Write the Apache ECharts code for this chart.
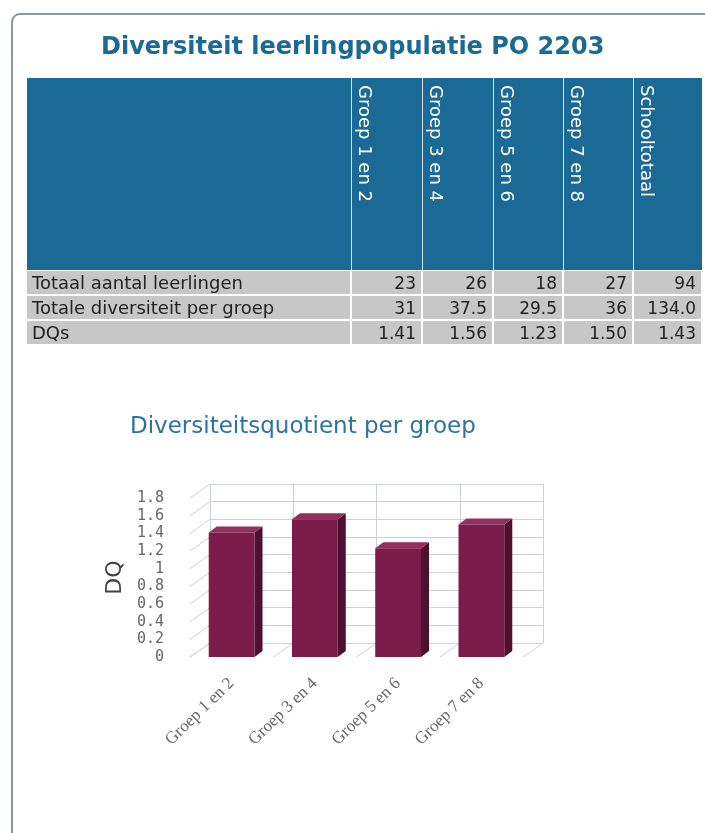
<!DOCTYPE html>
<html>
<head>
<meta charset="utf-8">
<script src="https://cdn.jsdelivr.net/npm/echarts@6/dist/echarts.min.js"></script>
<style>
    html, body { margin: 0; padding: 0; background: #fff; }
    #page { position: relative; width: 705px; height: 833px; overflow: hidden; font-family: "DejaVu Sans", sans-serif; }
    .card { position: absolute; left: 11px; top: 13px; width: 740px; height: 860px; border: 2px solid #8a98a3; border-radius: 9px; }
    #chart { position: absolute; left: 0; top: 0; width: 705px; height: 833px; z-index: 1; }
    #tabel { position: absolute; left: 27px; top: 78px; border-collapse: collapse; table-layout: fixed; z-index: 2; }
    #tabel th { background: #1b6a95; height: 192px; padding: 0; vertical-align: top; text-align: left; border-left: 1px solid #d6e4ee; }
    #tabel th:first-child { border-left: none; }
    #tabel th div { display: inline-block; writing-mode: vertical-rl; color: #fff; font-weight: normal; font-size: 18px; margin: 7px 0 0 3px; }
    #tabel td { background: #c7c7c7; height: 23px; padding: 0 5px 0 3px; font-size: 17px; color: #222; text-align: right; border: 2px solid #fff; border-top-width: 1px; white-space: nowrap; }
    #tabel td:first-child { text-align: left; border-left: none; font-size: 18px; padding-left: 5px; }
</style>
</head>
<body>
<div id="page">
    <div class="card"></div>
    <div id="chart"></div>
    <table id="tabel"></table>
</div>
<script>
    // tabel
    var kolommen = ['Groep 1 en 2', 'Groep 3 en 4', 'Groep 5 en 6', 'Groep 7 en 8', 'Schooltotaal']
    var rijLabels = ['Totaal aantal leerlingen', 'Totale diversiteit per groep', 'DQs']
    var aantalLeerlingen = ['23', '26', '18', '27', '94']
    var totaleDiversiteit = ['31', '37.5', '29.5', '36', '134.0']
    var dqTekst = ['1.41', '1.56', '1.23', '1.50', '1.43']

    // grafiek
    var groepen = ['Groep 1 en 2', 'Groep 3 en 4', 'Groep 5 en 6', 'Groep 7 en 8']
    var dqWaarden = [1.41, 1.56, 1.23, 1.50]
    var yTicks = [0, 0.2, 0.4, 0.6, 0.8, 1, 1.2, 1.4, 1.6, 1.8]

    // tabel opbouwen
    var kolomBreedtes = [324, 71, 71, 70, 70, 69]
    var html = '<colgroup>'
    kolomBreedtes.forEach(function (b) { html += '<col style="width:' + b + 'px">' })
    html += '</colgroup><tr><th></th>'
    kolommen.forEach(function (k) { html += '<th><div>' + k + '</div></th>' })
    html += '</tr>'
    var rijen = [aantalLeerlingen, totaleDiversiteit, dqTekst]
    rijen.forEach(function (rij, i) {
        html += '<tr><td>' + rijLabels[i] + '</td>'
        rij.forEach(function (v) { html += '<td>' + v + '</td>' })
        html += '</tr>'
    })
    document.getElementById('tabel').innerHTML = html

    var chart = echarts.init(document.getElementById('chart'))
    var wandKleur = '#ccd1d5'
    var diepte = [20, -14]   // achterwand t.o.v. voorvlak
    var balkDiepte = [8, -6]

    var option = {
        animation: false,
        title: [{
            text: 'Diversiteit leerlingpopulatie PO 2203',
            left: 96,
            top: 31,
            textStyle: { fontFamily: 'DejaVu Sans', fontSize: 24, fontWeight: 'bold', color: '#1b6a95' }
        }, {
            text: 'Diversiteitsquotient per groep',
            left: 125,
            top: 411,
            textStyle: { fontFamily: 'DejaVu Sans', fontSize: 23, fontWeight: 'normal', color: '#2e73a0' }
        }],
        grid: [
            { left: 190, right: 182, top: 498, bottom: 176 },
            { left: 210, right: 162, top: 484, bottom: 190 }
        ],
        xAxis: [{
            gridIndex: 0,
            type: 'category',
            data: groepen,
            axisLine: { show: false },
            axisTick: { show: false },
            axisLabel: { interval: 0, rotate: 44, margin: 24, fontFamily: 'Liberation Serif', fontSize: 17, color: '#666' }
        }, {
            gridIndex: 1,
            type: 'category',
            data: groepen,
            axisLine: { show: false },
            axisTick: { show: false, interval: 0 },
            axisLabel: { show: false, interval: 0 },
            splitLine: { show: true, interval: 0, lineStyle: { color: wandKleur } }
        }],
        yAxis: [{
            gridIndex: 0,
            type: 'value',
            min: 0,
            max: 1.8,
            interval: 0.2,
            name: 'DQ',
            nameLocation: 'middle',
            nameGap: 64,
            nameTextStyle: { fontFamily: 'DejaVu Sans', fontSize: 22, color: '#444' },
            axisLine: { show: false },
            axisTick: { show: false },
            splitLine: { show: false },
            axisLabel: { margin: 26, fontFamily: 'DejaVu Sans Mono', fontSize: 15, color: '#666' }
        }, {
            gridIndex: 1,
            type: 'value',
            min: 0,
            max: 1.8,
            interval: 0.2,
            axisLine: { show: false },
            axisTick: { show: false },
            axisLabel: { show: false },
            splitLine: { lineStyle: { color: wandKleur } }
        }],
        series: [{
            // zijwand
            type: 'custom',
            xAxisIndex: 0,
            yAxisIndex: 0,
            data: yTicks.map(function (v) { return [0, v] }),
            silent: true,
            renderItem: function (params, api) {
                var p = api.coord([0, api.value(1)])
                var x0 = p[0] - api.size([1, 0])[0] / 2
                return {
                    type: 'line',
                    shape: { x1: x0, y1: p[1], x2: x0 + diepte[0], y2: p[1] + diepte[1] },
                    style: { stroke: wandKleur, lineWidth: 1 }
                }
            }
        }, {
            // vloer
            type: 'custom',
            xAxisIndex: 0,
            yAxisIndex: 0,
            data: groepen.map(function (g, i) { return [i, 0] }),
            silent: true,
            renderItem: function (params, api) {
                var p = api.coord([api.value(0), 0])
                var bw = api.size([1, 0])[0]
                var kinderen = []
                var xs = [p[0] - bw / 2]
                if (params.dataIndex === groepen.length - 1) xs.push(p[0] + bw / 2)
                xs.forEach(function (x) {
                    kinderen.push({
                        type: 'line',
                        shape: { x1: x, y1: p[1], x2: x + diepte[0], y2: p[1] + diepte[1] },
                        style: { stroke: wandKleur, lineWidth: 1 }
                    })
                })
                return { type: 'group', children: kinderen }
            }
        }, {
            // balken
            type: 'custom',
            name: 'DQ',
            xAxisIndex: 0,
            yAxisIndex: 0,
            data: dqWaarden.map(function (v, i) { return [i, v] }),
            z: 5,
            renderItem: function (params, api) {
                var top = api.coord([api.value(0), api.value(1)])
                var basis = api.coord([api.value(0), 0])
                var w = api.size([1, 0])[0] * 0.55
                var x = top[0] - w / 2
                var dx = balkDiepte[0], dy = balkDiepte[1]
                return {
                    type: 'group',
                    children: [{
                        type: 'polygon',
                        shape: { points: [[x + w, top[1]], [x + w + dx, top[1] + dy], [x + w + dx, basis[1] + dy], [x + w, basis[1]]] },
                        style: { fill: '#4e1030' }
                    }, {
                        type: 'polygon',
                        shape: { points: [[x, top[1]], [x + dx, top[1] + dy], [x + w + dx, top[1] + dy], [x + w, top[1]]] },
                        style: { fill: '#922f5e' }
                    }, {
                        type: 'rect',
                        shape: { x: x, y: top[1], width: w, height: basis[1] - top[1] },
                        style: { fill: '#7a1b4a' }
                    }]
                }
            }
        }]
    }
    chart.setOption(option)
</script>
</body>
</html>
